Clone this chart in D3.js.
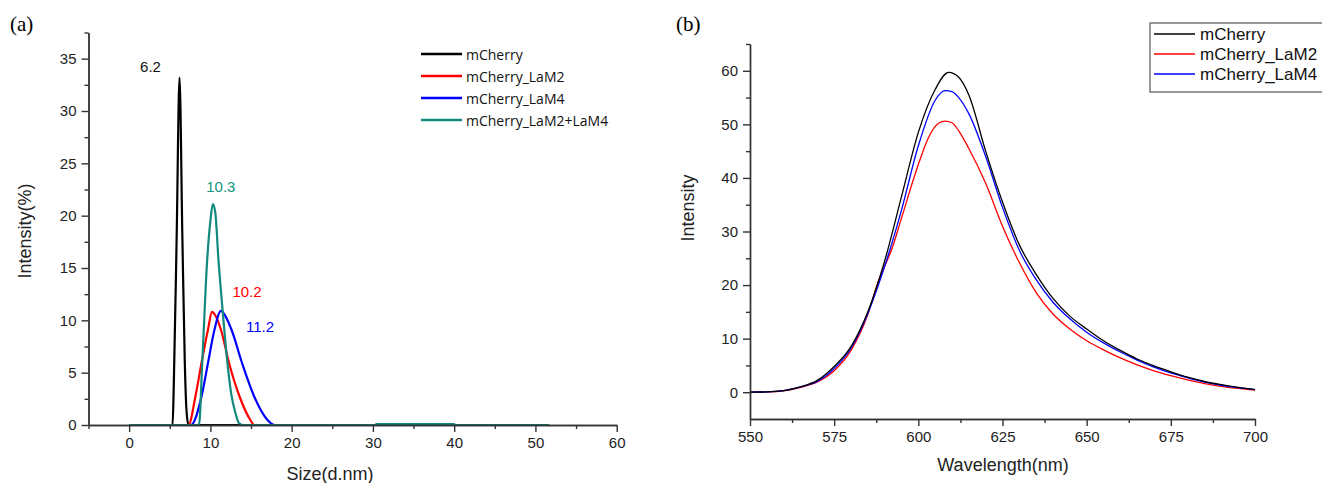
<!DOCTYPE html>
<html>
<head>
<meta charset="utf-8">
<script src="https://cdn.jsdelivr.net/npm/d3@7"></script>
<style>
  body { margin: 0; background: #fff; }
  svg { display: block; font-family: "Liberation Sans", Arial, sans-serif; }
  .axis path, .axis line { stroke: #333; stroke-width: 1.4; }
  .axis text { fill: #222; }
</style>
</head>
<body>
<svg id="chart" width="1322" height="483"></svg>
<script>
// ---- panel (a): DLS size distribution, [size (d.nm), intensity %] ----
let dlsMCherry = [[0, 0], [5.35, 0], [5.5, 4], [5.85, 18], [6.2, 33.2], [6.55, 18], [6.85, 6], [7.05, 1.5], [7.3, 0], [20, 0]];
let dlsLaM2 = [[0, 0], [7.3, 0], [8.15, 2.7], [8.9, 5.9], [9.7, 9.1], [10.2, 10.8], [10.5, 10.6], [11.3, 9.1], [12.3, 5.9], [13.6, 2.7], [14.9, 0.5], [15.4, 0], [20, 0]];
let dlsLaM4 = [[0, 0], [7.6, 0], [8.9, 2.7], [9.7, 5.9], [10.5, 9.1], [11.3, 10.9], [11.6, 10.7], [12.6, 9.1], [13.9, 5.9], [15.4, 2.7], [17.0, 0.5], [17.9, 0], [20, 0]];
let dlsLaM2LaM4 = [[0, 0], [8.6, 0], [9.0, 6], [9.6, 15.7], [10.0, 19.5], [10.3, 21.1], [10.6, 20.3], [11.0, 15.7], [11.5, 11], [12.06, 6.2], [12.6, 2.8], [13.1, 1.1], [13.5, 0.2], [14, 0], [30.3, 0], [30.4, 0.08], [40, 0.08], [40.1, 0], [51.7, 0]];
let dlsNames = ["mCherry", "mCherry_LaM2", "mCherry_LaM4", "mCherry_LaM2+LaM4"];
let dlsPeaks = ["6.2", "10.2", "11.2", "10.3"];
let sizeTicks = [0, 10, 20, 30, 40, 50, 60];
let sizeMinor = [-5, 5, 15, 25, 35, 45, 55];
let intTicksA = [0, 5, 10, 15, 20, 25, 30, 35];
let intMinorA = [2.5, 7.5, 12.5, 17.5, 22.5, 27.5, 32.5, 37.5];

// ---- panel (b): fluorescence emission, [wavelength nm, intensity] ----
let emMCherry = [[550, 0], [555, 0.05], [560, 0.3], [565, 1.0], [570, 2.2], [575, 4.8], [580, 8.5], [585, 15], [590, 24.5], [595, 36.5], [600, 48.5], [605, 56.5], [609, 59.7], [612, 58.8], [615, 55.5], [620, 45], [625, 35.5], [630, 27.5], [635, 22], [640, 17.5], [645, 14.2], [650, 11.8], [655, 9.6], [660, 7.8], [665, 6.2], [670, 4.9], [675, 3.8], [680, 2.8], [685, 2.0], [690, 1.4], [695, 0.9], [700, 0.5]];
let emLaM2 = [[550, 0], [555, 0.05], [560, 0.25], [565, 0.9], [570, 1.9], [575, 4.0], [580, 7.8], [585, 14.5], [588, 20.5], [590, 23.5], [592, 26.5], [595, 32.5], [600, 42.5], [603, 47.5], [606, 50.2], [608, 50.6], [610, 50.3], [612, 48.8], [615, 45.5], [620, 39], [625, 31], [630, 24.2], [635, 18.6], [640, 14.6], [645, 11.8], [650, 9.6], [655, 7.9], [660, 6.4], [665, 5.1], [670, 4.0], [675, 3.1], [680, 2.3], [685, 1.6], [690, 1.1], [695, 0.7], [700, 0.4]];
let emLaM4 = [[550, 0], [555, 0.05], [560, 0.3], [565, 1.0], [570, 2.0], [575, 4.4], [580, 8.2], [585, 14.7], [590, 23.5], [595, 34], [600, 46], [605, 54.5], [608, 56.3], [610, 56.1], [612, 55.0], [615, 52], [620, 44], [625, 34.5], [630, 26.5], [635, 21], [640, 16.8], [645, 13.7], [650, 11.2], [655, 9.2], [660, 7.5], [665, 6.0], [670, 4.7], [675, 3.6], [680, 2.7], [685, 1.9], [690, 1.3], [695, 0.85], [700, 0.5]];
let emNames = ["mCherry", "mCherry_LaM2", "mCherry_LaM4"];
let waveTicks = [550, 575, 600, 625, 650, 675, 700];
let waveMinor = [562.5, 587.5, 612.5, 637.5, 662.5, 687.5];
let intTicksB = [0, 10, 20, 30, 40, 50, 60];
let intMinorB = [5, 15, 25, 35, 45, 55, 65];

let svg = d3.select("#chart");

// draw a major + minor axis pair
function drawAxis(g, axisFn, scale, major, minor, fontSize) {
    g.append("g").attr("class", "axis")
        .call(axisFn(scale).tickValues(minor).tickSize(4).tickSizeOuter(0).tickFormat(""));
    let a = g.append("g").attr("class", "axis")
        .call(axisFn(scale).tickValues(major).tickSize(7).tickSizeOuter(0).tickPadding(5).tickFormat(d3.format("d")));
    a.selectAll("text").style("font-size", fontSize + "px");
    return a;
}

// ================= panel (a) =================
let xA = d3.scaleLinear().domain([-5, 60]).range([88.5, 616.7]);
let yA = d3.scaleLinear().domain([0, 37.5]).range([425, 32.5]);
let colorsA = ["#000000", "#ff0000", "#0000ff", "#12897d"];
let labelColorsA = ["#111111", "#ff0000", "#0000ff", "#139580"];

let gA = svg.append("g");
let lineA = d3.line().x(d => xA(d[0])).y(d => yA(d[1])).curve(d3.curveMonotoneX);
[dlsMCherry, dlsLaM2, dlsLaM4, dlsLaM2LaM4].forEach((s, i) => {
    gA.append("path").datum(s)
        .attr("d", lineA)
        .attr("fill", "none")
        .attr("stroke", colorsA[i])
        .attr("stroke-width", 2.2)
        .attr("stroke-linejoin", "round");
});

drawAxis(gA.append("g").attr("transform", "translate(0,425)"), d3.axisBottom, xA, sizeTicks, sizeMinor, 15);
drawAxis(gA.append("g").attr("transform", "translate(88.5,0)"), d3.axisLeft, yA, intTicksA, intMinorA, 15);

// peak labels
let peakPos = [[6.2, 33.2, -29, -11], [10.2, 10.8, 35, -20], [11.3, 10.9, 39, 16], [10.3, 21.1, 8, -18]];
peakPos.forEach((p, i) => {
    gA.append("text")
        .attr("x", xA(p[0]) + p[2])
        .attr("y", yA(p[1]) + p[3])
        .attr("text-anchor", "middle")
        .attr("dominant-baseline", "central")
        .style("font-size", "15px")
        .attr("fill", labelColorsA[i])
        .text(dlsPeaks[i]);
});

gA.append("text").attr("x", 330).attr("y", 474)
    .attr("text-anchor", "middle").attr("dominant-baseline", "central")
    .style("font-size", "18px").attr("fill", "#222").text("Size(d.nm)");
gA.append("text").attr("transform", "translate(25,231) rotate(-90)")
    .attr("text-anchor", "middle").attr("dominant-baseline", "central")
    .style("font-size", "18px").attr("fill", "#222").text("Intensity(%)");
gA.append("text").attr("x", 10).attr("y", 31)
    .style("font-family", "'Liberation Serif', 'Times New Roman', serif")
    .style("font-size", "21px").text("(a)");

// legend (a)
let legA = gA.append("g").attr("transform", "translate(421,54)");
dlsNames.forEach((n, i) => {
    let row = legA.append("g").attr("transform", "translate(0," + (i * 22) + ")");
    row.append("line").attr("x1", 0).attr("x2", 41).attr("y1", 0).attr("y2", 0)
        .attr("stroke", colorsA[i]).attr("stroke-width", 2.4);
    row.append("text").attr("x", 45).attr("y", 0)
        .attr("dominant-baseline", "central")
        .style("font-family", "'Open Sans', 'Liberation Sans', sans-serif")
        .style("font-size", "14px").attr("fill", "#111").text(n);
});

// ================= panel (b) =================
let xB = d3.scaleLinear().domain([550, 700]).range([750, 1255]);
let yB = d3.scaleLinear().domain([-5, 65]).range([419, 44]);
let colorsB = ["#000000", "#ff0000", "#0000ff"];

let gB = svg.append("g");
let lineB = d3.line().x(d => xB(d[0])).y(d => yB(d[1])).curve(d3.curveMonotoneX);
// draw red, blue, then black on top
[[emLaM2, 1], [emLaM4, 2], [emMCherry, 0]].forEach(p => {
    gB.append("path").datum(p[0])
        .attr("d", lineB)
        .attr("fill", "none")
        .attr("stroke", colorsB[p[1]])
        .attr("stroke-width", 1.3);
});

drawAxis(gB.append("g").attr("transform", "translate(0,419)"), d3.axisBottom, xB, waveTicks, waveMinor, 15);
drawAxis(gB.append("g").attr("transform", "translate(750,0)"), d3.axisLeft, yB, intTicksB, intMinorB, 15);

gB.append("text").attr("x", 1003).attr("y", 465)
    .attr("text-anchor", "middle").attr("dominant-baseline", "central")
    .style("font-size", "18px").attr("fill", "#222").text("Wavelength(nm)");
gB.append("text").attr("transform", "translate(688,208) rotate(-90)")
    .attr("text-anchor", "middle").attr("dominant-baseline", "central")
    .style("font-size", "18px").attr("fill", "#222").text("Intensity");
gB.append("text").attr("x", 676).attr("y", 31)
    .style("font-family", "'Liberation Serif', 'Times New Roman', serif")
    .style("font-size", "21px").text("(b)");

// legend (b), boxed, right side running off the edge
let legB = gB.append("g").attr("transform", "translate(1150,23)");
legB.append("rect").attr("x", 0).attr("y", 0).attr("width", 220).attr("height", 69)
    .attr("fill", "#fff").attr("stroke", "#555").attr("stroke-width", 1.2);
emNames.forEach((n, i) => {
    let y = 11 + i * 20;
    legB.append("line").attr("x1", 4).attr("x2", 45).attr("y1", y).attr("y2", y)
        .attr("stroke", colorsB[i]).attr("stroke-width", 1.3);
    legB.append("text").attr("x", 50).attr("y", y)
        .attr("dominant-baseline", "central")
        .style("font-size", "17px").attr("fill", "#111").text(n);
});
</script>
</body>
</html>
